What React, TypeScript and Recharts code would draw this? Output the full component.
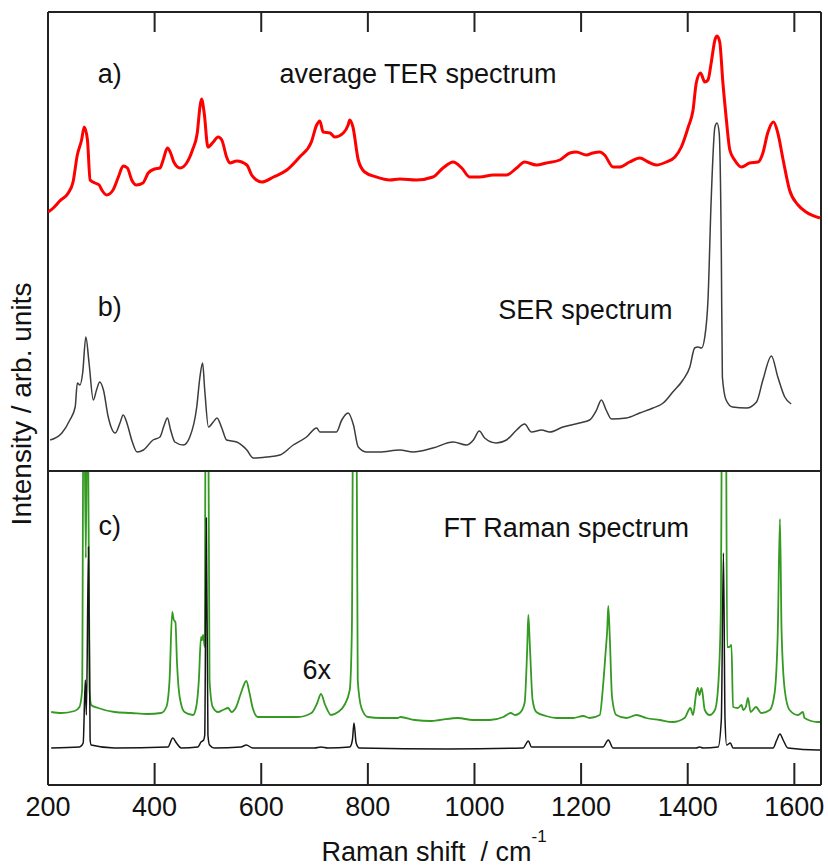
import { LineChart, Line, XAxis, YAxis, ReferenceDot, ReferenceLine } from "recharts";

const FONT = "'Liberation Sans', Arial, sans-serif";

// Raman shift axis (cm-1)
const xDomain: [number, number] = [200, 1650];
const xTicks = [200, 400, 600, 800, 1000, 1200, 1400, 1600];
const topTicks = [400, 600, 800, 1000, 1200, 1400, 1600];

// a) average TER spectrum  [shift, intensity]  (upper panel units)
const terSpectrum: [number, number][] = [
  [200, 259], [210, 263], [222, 270], [238, 278], [247, 289], [255, 316], [263, 331], [268, 344],
  [274, 331], [279, 291], [288, 288], [296, 286], [301, 281], [310, 276], [322, 281], [332, 294],
  [341, 305], [349, 303], [357, 291], [366, 286], [378, 288], [388, 298], [400, 302], [410, 303],
  [416, 311], [424, 323], [430, 318], [436, 309], [448, 303], [460, 308], [471, 321], [480, 338],
  [485, 364], [488, 372], [493, 358], [500, 324], [510, 329], [519, 334], [526, 331], [535, 314],
  [541, 308], [554, 310], [573, 306], [582, 296], [591, 291], [601, 289], [623, 294], [648, 301],
  [672, 314], [694, 329], [704, 346], [710, 350], [716, 339], [729, 338], [738, 334], [754, 338],
  [763, 346], [766, 351], [772, 344], [782, 311], [794, 299], [816, 294], [841, 291], [860, 292],
  [891, 291], [922, 294], [941, 303], [960, 309], [976, 303], [991, 294], [1010, 294], [1035, 296],
  [1060, 296], [1079, 303], [1094, 309], [1116, 306], [1135, 308], [1160, 311], [1179, 318],
  [1191, 319], [1210, 316], [1222, 318], [1235, 319], [1244, 316], [1260, 304], [1272, 304],
  [1291, 309], [1310, 313], [1326, 309], [1341, 306], [1360, 309], [1376, 314], [1388, 324],
  [1401, 344], [1410, 361], [1416, 388], [1424, 398], [1432, 389], [1438, 391], [1444, 408],
  [1451, 431], [1455, 435], [1460, 429], [1466, 388], [1472, 354], [1479, 321], [1488, 311],
  [1501, 304], [1516, 308], [1532, 309], [1541, 318], [1550, 338], [1561, 349], [1569, 338],
  [1579, 311], [1591, 281], [1607, 266], [1622, 259], [1648, 253],
];

// b) SER spectrum
const serSpectrum: [number, number][] = [
  [204, 31], [226, 38], [241, 51], [251, 64], [255, 88], [260, 86], [265, 98], [271, 134],
  [277, 108], [285, 71], [291, 81], [297, 89], [304, 81], [313, 54], [326, 38], [335, 48],
  [341, 56], [348, 48], [357, 31], [367, 19], [379, 21], [397, 31], [410, 34], [418, 46],
  [424, 53], [430, 41], [438, 29], [454, 26], [466, 34], [479, 64], [485, 94], [490, 108],
  [494, 81], [501, 44], [510, 49], [517, 53], [526, 43], [535, 31], [554, 29], [573, 21],
  [585, 13], [610, 14], [635, 16], [660, 26], [685, 34], [704, 43], [710, 39], [726, 39],
  [741, 39], [751, 51], [763, 58], [773, 46], [782, 24], [798, 19], [822, 19], [860, 21],
  [885, 19], [922, 23], [960, 29], [985, 26], [998, 31], [1009, 40], [1019, 33], [1041, 28],
  [1060, 31], [1079, 41], [1094, 47], [1107, 39], [1126, 41], [1141, 39], [1166, 44],
  [1197, 48], [1216, 51], [1229, 61], [1238, 71], [1247, 61], [1257, 52], [1285, 53],
  [1310, 58], [1335, 63], [1354, 68], [1372, 79], [1391, 91], [1404, 104], [1413, 123],
  [1419, 124], [1426, 123], [1432, 134], [1438, 171], [1444, 271], [1451, 344], [1455, 348],
  [1459, 338], [1463, 221], [1465, 94], [1472, 71], [1484, 64], [1510, 63], [1529, 69],
  [1541, 91], [1557, 115], [1569, 94], [1582, 74], [1594, 67],
];

// c) FT Raman spectrum, 6x (lower panel units)
const ftRaman6x: [number, number][] = [
  [206, 73], [225, 72], [250, 74], [259, 78], [264, 95], [267, 450], [271, 227], [274, 450],
  [278, 95], [281, 80], [294, 77], [325, 73], [356, 72], [387, 71], [412, 72], [422, 78],
  [428, 105], [433, 173], [436, 165], [439, 163], [442, 122], [447, 88], [456, 73], [472, 70],
  [478, 78], [483, 105], [487, 148], [489, 145], [491, 150], [494, 138], [496, 450], [500, 450],
  [503, 105], [509, 78], [519, 73], [528, 75], [538, 77], [544, 73], [553, 78], [562, 92],
  [572, 104], [578, 92], [584, 77], [594, 68], [613, 68], [637, 68], [669, 68], [694, 72],
  [705, 82], [712, 91], [720, 80], [731, 70], [744, 73], [756, 80], [766, 95], [770, 155],
  [773, 450], [778, 450], [781, 105], [788, 77], [800, 68], [825, 67], [856, 67], [861, 68],
  [888, 65], [919, 64], [935, 65], [969, 67], [997, 65], [1029, 65], [1054, 68], [1068, 72],
  [1076, 70], [1085, 72], [1094, 82], [1099, 138], [1101, 170], [1104, 138], [1109, 85],
  [1116, 73], [1134, 69], [1154, 67], [1185, 67], [1204, 69], [1216, 67], [1235, 70],
  [1241, 98], [1246, 133], [1249, 155], [1251, 179], [1254, 145], [1258, 88], [1266, 70],
  [1285, 67], [1304, 70], [1322, 67], [1347, 65], [1372, 63], [1394, 67], [1405, 77],
  [1410, 70], [1416, 92], [1419, 97], [1422, 90], [1426, 97], [1432, 75], [1441, 70],
  [1451, 75], [1457, 98], [1462, 172], [1465, 450], [1471, 450], [1474, 138], [1478, 138],
  [1482, 140], [1485, 78], [1494, 77], [1501, 80], [1504, 75], [1509, 78], [1513, 87],
  [1518, 73], [1528, 78], [1538, 72], [1554, 75], [1563, 92], [1569, 155], [1573, 266],
  [1576, 155], [1582, 95], [1591, 75], [1607, 70], [1616, 73], [1619, 67], [1644, 63], [1650, 63],
];

// c) FT Raman spectrum, 1x
const ftRaman1x: [number, number][] = [
  [206, 37], [259, 38], [266, 42], [270, 105], [272, 70], [276, 238], [279, 45], [281, 40],
  [325, 37], [425, 38], [434, 47], [441, 42], [450, 37], [481, 38], [487, 43], [492, 45],
  [494, 50], [497, 267], [500, 50], [503, 40], [512, 37], [562, 38], [572, 40], [584, 37],
  [700, 37], [712, 38], [725, 37], [766, 38], [771, 45], [774, 62], [778, 42], [784, 37],
  [950, 36], [1091, 37], [1101, 44], [1107, 38], [1241, 38], [1251, 45], [1260, 37],
  [1416, 37], [1422, 38], [1429, 37], [1457, 38], [1463, 65], [1467, 232], [1470, 65],
  [1473, 40], [1480, 42], [1485, 37], [1560, 37], [1567, 45], [1573, 51], [1579, 45],
  [1588, 37], [1644, 35], [1650, 35],
];

const toPoints = (s: [number, number][]) => s.map(([shift, value]) => ({ shift, value }));

const TOP_MAX = 459; // upper panel value range
const BOT_MAX = 314; // lower panel value range
const INK = "#222";

const note = (text: string) => (p: any) => (
  <text x={p.cx} y={p.cy} textAnchor="middle" fontSize={27} fontFamily={FONT} fill="#111">
    {text}
  </text>
);

const TickLabel = (p: any) => (
  <text x={p.x} y={p.y + 31} textAnchor="middle" fontSize={27} fontFamily={FONT} fill="#111">
    {p.payload.value}
  </text>
);

const border = (key: string, props: any) => (
  <ReferenceLine key={key} {...props} stroke={INK} strokeWidth={2} ifOverflow="visible" />
);

export default function App() {
  return (
    <div style={{ position: "absolute", left: 0, top: 0, width: 828, height: 867, background: "#fff" }}>
      <div style={{ position: "absolute", left: 0, top: 0 }}>
        <LineChart width={828} height={480} margin={{ top: 12, right: 7, bottom: 9, left: 48 }}>
          <XAxis xAxisId="t" type="number" dataKey="shift" domain={xDomain} hide allowDataOverflow />
          <YAxis yAxisId="l" type="number" domain={[0, TOP_MAX]} hide allowDataOverflow />
          {border("top", { xAxisId: "t", yAxisId: "l", y: TOP_MAX })}
          {border("left", { xAxisId: "t", yAxisId: "l", x: xDomain[0] })}
          {border("right", { xAxisId: "t", yAxisId: "l", x: xDomain[1] })}
          {topTicks.map((t) =>
            border(`tt${t}`, {
              xAxisId: "t",
              yAxisId: "l",
              segment: [{ x: t, y: TOP_MAX }, { x: t, y: TOP_MAX - 20 }],
            })
          )}
          <Line
            xAxisId="t"
            yAxisId="l"
            data={toPoints(serSpectrum)}
            dataKey="value"
            type="monotone"
            stroke="#3c3c3c"
            strokeWidth={1.5}
            dot={false}
            isAnimationActive={false}
          />
          <Line
            xAxisId="t"
            yAxisId="l"
            data={toPoints(terSpectrum)}
            dataKey="value"
            type="monotone"
            stroke="#ff0000"
            strokeWidth={3}
            dot={false}
            isAnimationActive={false}
          />
          <ReferenceDot xAxisId="t" yAxisId="l" x={316} y={388} r={0} shape={note("a)")} />
          <ReferenceDot xAxisId="t" yAxisId="l" x={894} y={388} r={0} shape={note("average TER spectrum")} />
          <ReferenceDot xAxisId="t" yAxisId="l" x={316} y={155} r={0} shape={note("b)")} />
          <ReferenceDot xAxisId="t" yAxisId="l" x={1208} y={152} r={0} shape={note("SER spectrum")} />
        </LineChart>
      </div>
      <div style={{ position: "absolute", left: 0, top: 461 }}>
        <LineChart width={828} height={406} margin={{ top: 10, right: 7, bottom: 32, left: 48 }}>
          <XAxis
            xAxisId="b"
            type="number"
            dataKey="shift"
            domain={xDomain}
            ticks={xTicks}
            interval={0}
            height={50}
            tickSize={0}
            tickMargin={0}
            tick={<TickLabel />}
            tickLine={false}
            axisLine={false}
            allowDataOverflow
          />
          <YAxis yAxisId="l" type="number" domain={[0, BOT_MAX]} hide allowDataOverflow />
          <Line
            xAxisId="b"
            yAxisId="l"
            data={toPoints(ftRaman6x)}
            dataKey="value"
            type="monotone"
            stroke="#349a22"
            strokeWidth={1.8}
            dot={false}
            isAnimationActive={false}
          />
          <Line
            xAxisId="b"
            yAxisId="l"
            data={toPoints(ftRaman1x)}
            dataKey="value"
            type="monotone"
            stroke="#151515"
            strokeWidth={1.5}
            dot={false}
            isAnimationActive={false}
          />
          {border("divider", { xAxisId: "b", yAxisId: "l", y: BOT_MAX })}
          {border("bottom", { xAxisId: "b", yAxisId: "l", y: 0 })}
          {border("left", { xAxisId: "b", yAxisId: "l", x: xDomain[0] })}
          {border("right", { xAxisId: "b", yAxisId: "l", x: xDomain[1] })}
          {xTicks.map((t) =>
            border(`bt${t}`, {
              xAxisId: "b",
              yAxisId: "l",
              segment: [{ x: t, y: 0 }, { x: t, y: 22 }],
            })
          )}
          <ReferenceDot xAxisId="b" yAxisId="l" x={316} y={250} r={0} shape={note("c)")} />
          <ReferenceDot xAxisId="b" yAxisId="l" x={1172} y={248} r={0} shape={note("FT Raman spectrum")} />
          <ReferenceDot xAxisId="b" yAxisId="l" x={704} y={106} r={0} shape={note("6x")} />
        </LineChart>
      </div>
      <svg
        width={828}
        height={867}
        style={{ position: "absolute", left: 0, top: 0, pointerEvents: "none" }}
      >
        <text
          transform="translate(31,404) rotate(-90)"
          textAnchor="middle"
          fontSize={28}
          fontFamily={FONT}
          fill="#111"
        >
          Intensity / arb. units
        </text>
        <text x={434} y={861} textAnchor="middle" fontSize={27} fontFamily={FONT} fill="#111" style={{ whiteSpace: "pre" }}>
          {"Raman shift  / cm"}
          <tspan dy={-19} fontSize={17}>-1</tspan>
        </text>
      </svg>
    </div>
  );
}
